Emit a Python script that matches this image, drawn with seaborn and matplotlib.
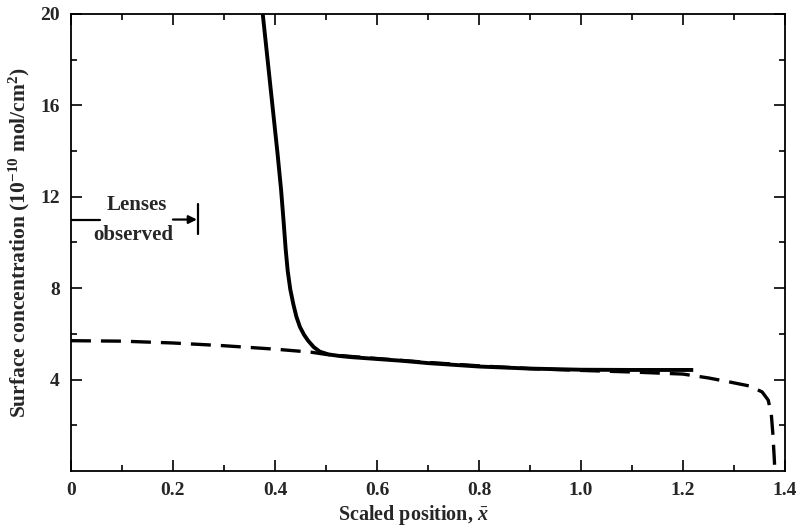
import numpy as np
import pandas as pd
import matplotlib
matplotlib.use("Agg")
import matplotlib.pyplot as plt
import seaborn as sns

# Surface concentration profiles vs scaled position
solid_x = [0.376, 0.395, 0.405, 0.412, 0.417, 0.421, 0.425, 0.430, 0.436, 0.442,
           0.449, 0.457, 0.465, 0.476, 0.488, 0.505, 0.527, 0.55, 0.6, 0.65,
           0.7, 0.8, 0.9, 1.0, 1.1, 1.22]
solid_y = [20.0, 16.0, 13.9, 12.3, 10.9, 9.7, 8.75, 7.95, 7.3, 6.75,
           6.3, 5.96, 5.7, 5.42, 5.22, 5.1, 5.03, 4.98, 4.9, 4.82,
           4.72, 4.57, 4.48, 4.43, 4.42, 4.42]

dashed_x = [0.0, 0.1, 0.2, 0.3, 0.4, 0.47, 0.5, 0.6, 0.7, 0.8, 0.9, 1.0, 1.1,
            1.2, 1.25, 1.29, 1.33, 1.355, 1.367, 1.373, 1.376, 1.379, 1.38]
dashed_y = [5.7, 5.68, 5.6, 5.48, 5.33, 5.2, 5.1, 4.92, 4.75, 4.6, 4.48, 4.4, 4.33,
            4.24, 4.07, 3.9, 3.72, 3.46, 3.1, 2.5, 1.66, 0.5, 0.0]

x_ticks = [0.0, 0.2, 0.4, 0.6, 0.8, 1.0, 1.2, 1.4]
x_tick_labels = ["0", "0.2", "0.4", "0.6", "0.8", "1.0", "1.2", "1.4"]
y_ticks = [4, 8, 12, 16, 20]
y_tick_labels = ["4", "8", "12", "16", "20"]

sns.set_theme(style="ticks")
plt.rcParams["font.family"] = ["Liberation Serif", "DejaVu Serif"]
plt.rcParams["font.weight"] = "bold"
plt.rcParams["mathtext.fontset"] = "custom"
plt.rcParams["mathtext.rm"] = "Liberation Serif:bold"
plt.rcParams["mathtext.it"] = "Liberation Serif:italic:bold"
plt.rcParams["mathtext.bf"] = "Liberation Serif:bold"

fig = plt.figure(figsize=(8.06, 5.31), dpi=100)
ax = fig.add_axes([0.088, 0.113, 0.886, 0.861])

solid = pd.DataFrame({"x": solid_x, "y": solid_y})
dashed = pd.DataFrame({"x": dashed_x, "y": dashed_y})

sns.lineplot(data=dashed, x="x", y="y", ax=ax, color="black", lw=2.4,
             linestyle=(0, (6, 3)), sort=False, estimator=None)
sns.lineplot(data=solid, x="x", y="y", ax=ax, color="black", lw=2.8,
             sort=False, estimator=None, solid_capstyle="butt",
             solid_joinstyle="round")

ax.set_xlim(0, 1.4)
ax.set_ylim(0, 20)
ax.set_xticks(x_ticks)
ax.set_xticklabels(x_tick_labels)
ax.set_yticks(y_ticks)
ax.set_yticklabels(y_tick_labels)
ax.set_xticks(np.arange(0.1, 1.4, 0.2), minor=True)
ax.set_yticks([2, 6, 10, 14, 18], minor=True)
ax.tick_params(which="both", direction="in", top=True, right=True,
               width=1.2, color="black")
ax.tick_params(which="major", length=8, labelsize=14, pad=8)
ax.tick_params(which="minor", length=4.5)
for lab in ax.get_xticklabels() + ax.get_yticklabels():
    lab.set_fontweight("bold")
for sp in ax.spines.values():
    sp.set_linewidth(1.3)
    sp.set_color("black")

ax.set_xlabel(r"Scaled position, $\bar{x}$", fontsize=14.5, fontweight="bold")
ax.xaxis.set_label_coords(0.479, -0.07)
ax.set_ylabel(r"Surface concentration (10$^{-10}$ mol/cm$^{2}$)", fontsize=15.5,
              fontweight="bold")
ax.yaxis.set_label_coords(-0.054, 0.5)

# "Lenses observed" range marker
ax.plot([0.0, 0.057], [11.0, 11.0], color="black", lw=1.6)
ax.annotate("", xy=(0.247, 11.0), xytext=(0.2, 11.0),
            arrowprops=dict(arrowstyle="-|>", color="black", lw=1.6,
                            mutation_scale=12, shrinkA=0, shrinkB=0))
ax.plot([0.25, 0.25], [10.35, 11.7], color="black", lw=1.6)
ax.text(0.129, 11.62, "Lenses", ha="center", va="center", fontsize=15,
        fontweight="bold")
ax.text(0.122, 10.33, "observed", ha="center", va="center", fontsize=15,
        fontweight="bold")

fig.savefig("out.png", dpi=100)
